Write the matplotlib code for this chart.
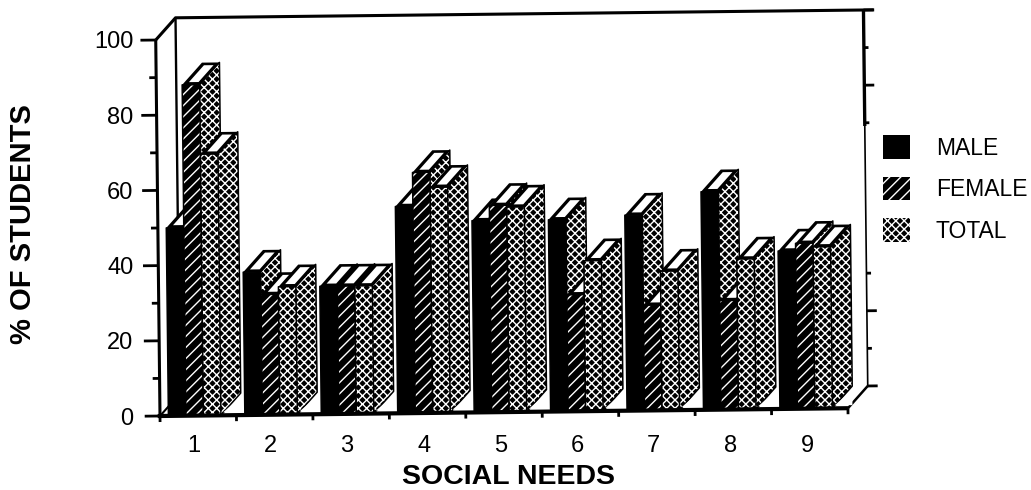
import matplotlib
matplotlib.use('Agg')
import matplotlib.pyplot as plt
from matplotlib.patches import Patch, Polygon
from matplotlib.transforms import Affine2D

plt.rcParams['font.family'] = ['Liberation Sans', 'DejaVu Sans']
plt.rcParams['hatch.linewidth'] = 1.0
plt.rcParams['hatch.color'] = 'white'

categories = ['1', '2', '3', '4', '5', '6', '7', '8', '9']
male = [50, 38, 34, 55, 51, 51, 52, 58, 42]
female = [88, 32, 34, 64, 55, 31, 28, 29, 44]
total = [69.5, 34, 34, 60, 54.5, 40, 37, 40, 43]
series = [('MALE', male, ''), ('FEMALE', female, '///'), ('TOTAL', total, 'xxxx')]
y_major = [0, 20, 40, 60, 80, 100]
y_minor = [10, 30, 50, 70, 90]
right_major = [0, 20, 80, 100]
right_minor = [10, 30, 70, 90]

# depth of the fake 3d box, in data units
dx = 0.262
dy = 5.85
bar_w = 0.229
offset = 0.11

fig = plt.figure(figsize=(10.31, 4.9), dpi=100)
ax = fig.add_axes([160 / 1031, 74 / 490, 688 / 1031, 376 / 490])
ax.set_xlim(0, 9)
ax.set_ylim(0, 100)
for s in ax.spines.values():
    s.set_visible(False)

# the scan is slightly tilted
tilt = ax.transData + Affine2D().rotate_deg_around(160, 74, 0.65)


def line(xs, ys, lw=2.0):
    ax.plot(xs, ys, color='black', lw=lw, transform=tilt, clip_on=False,
            solid_capstyle='butt', zorder=1)


def face(points, hatch='', color='black', z=2):
    ax.add_patch(Polygon(points, closed=True, facecolor=color, edgecolor='black' if not hatch else 'white',
                         hatch=hatch, lw=0, transform=tilt, clip_on=False, zorder=z))


# walls and floor
line([0, 0], [0, 100], lw=2.2)
line([0, dx, 9 + dx + 0.14], [100, 100 + dy, 100 + dy], lw=2.2)
line([dx, dx], [dy, 100 + dy], lw=1.7)
line([9 + dx, 9 + dx], [dy, 100 + dy], lw=1.2)
line([9 + dx, 9 + dx], [75, 100 + dy], lw=2.4)
line([0, dx], [0, dy], lw=1.5)
line([9, 9 + dx], [0, dy], lw=1.8)

for v in y_major:
    line([-0.2, 0], [v, v])
for v in y_minor:
    line([-0.09, 0], [v, v])
for v in range(len(categories) + 1):
    line([v, v], [0, -1.6], lw=2.0)
for v in right_major:
    line([9 + dx, 9 + dx + 0.13], [v + dy, v + dy])
for v in right_minor:
    line([9 + dx, 9 + dx + 0.06], [v + dy, v + dy])

# bars, left to right so each one hides the side of the one before it
z = 3
for i in range(len(categories)):
    for j, (name, values, hatch) in enumerate(series):
        v = values[i]
        x0 = i + offset + j * bar_w
        x1 = x0 + bar_w
        face([(x1, 0), (x1 + dx, dy), (x1 + dx, v + dy), (x1, v)], 'xxxx', z=z)
        bar = ax.bar(x0, v, bar_w, align='edge', color='black', hatch=hatch,
                     edgecolor='white' if hatch else 'black', lw=0, zorder=z + 1, clip_on=False)[0]
        bar.set_transform(tilt)
        face([(x0, v), (x1, v), (x1 + dx, v + dy), (x0 + dx, v + dy)], z=z + 2)
        u0, u1, t0, t1 = 0.25, 0.8, 0.12, 0.88
        face([(x0 + u0 * bar_w + t0 * dx, v + t0 * dy), (x0 + u1 * bar_w + t0 * dx, v + t0 * dy),
              (x0 + u1 * bar_w + t1 * dx, v + t1 * dy), (x0 + u0 * bar_w + t1 * dx, v + t1 * dy)],
             color='white', z=z + 3)
        ax.plot([x0, x0, x1, x1], [0, v, v, 0], color='black', lw=1.1, transform=tilt,
                clip_on=False, zorder=z + 2)
        ax.plot([x1, x1 + dx, x1 + dx, x1], [v, v + dy, dy, 0], color='black', lw=1.1, transform=tilt,
                clip_on=False, zorder=z + 2)
        z += 4
    # floor showing through the gap between groups
    x_end = i + offset + 3 * bar_w
    face([(x_end + 0.03, 0.8), (x_end + dx, 0.8), (x_end + dx, dy - 1)], color='white', z=z)
    z += 1

# baseline sits over the feet of the bars
ax.plot([-0.03, 9], [0, 0], color='black', lw=3, transform=tilt, clip_on=False,
        solid_capstyle='butt', zorder=z)

ax.set_xticks([i * 1.003 + 0.44 for i in range(len(categories))], categories)
ax.set_yticks(y_major)
ax.tick_params(axis='both', length=0, labelsize=17)
ax.tick_params(axis='x', pad=14)
ax.tick_params(axis='y', pad=19)
ax.set_zorder(2)

fig.text(23 / 1031, 1 - 224 / 490, '% OF STUDENTS', rotation=90, fontsize=21, fontweight='bold',
         ha='center', va='center')
fig.text(508 / 1031, 1 - 477 / 490, 'SOCIAL NEEDS', fontsize=20.5, fontweight='bold',
         ha='center', va='center')

handles = [Patch(facecolor='black', edgecolor='white' if h else 'black', hatch=h, lw=0, label=n)
           for n, _, h in series]
fig.legend(handles=handles, loc='upper left', bbox_to_anchor=(874 / 1031, 1 - 126 / 490), frameon=False,
           fontsize=16.5, handlelength=1.15, handleheight=1.2, labelspacing=0.75, handletextpad=1.15,
           labelcolor='black', borderaxespad=0)

fig.savefig('out.png', dpi=100)
